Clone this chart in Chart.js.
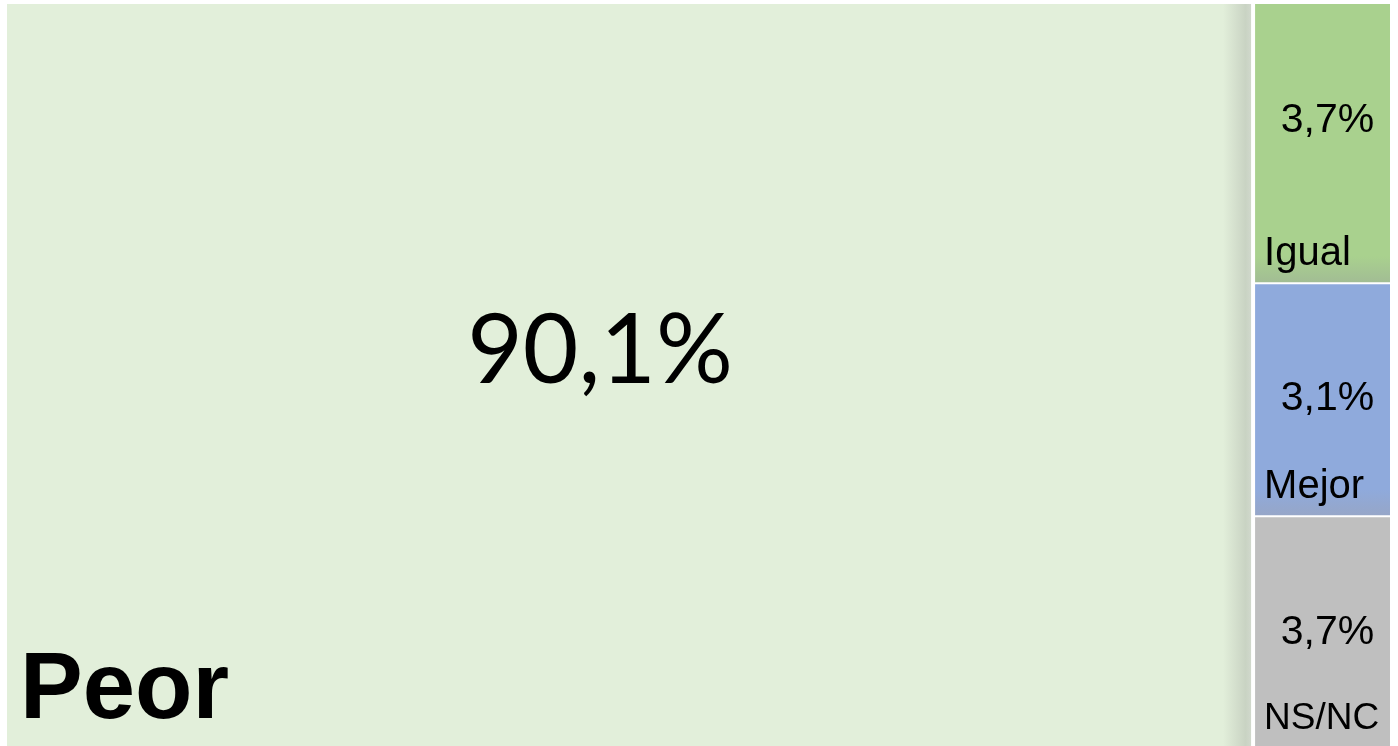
<!DOCTYPE html>
<html>
<head>
<meta charset="utf-8">
<script src="https://cdn.jsdelivr.net/npm/chart.js@4/dist/chart.umd.min.js"></script>
<style>
  html, body { margin: 0; padding: 0; background: #ffffff; }
  #wrap { width: 1398px; height: 746px; }
</style>
</head>
<body>
<div id="wrap"><canvas id="c" width="1398" height="746"></canvas></div>
<script>
// ---- data ----
const categories = ['Peor', 'Igual', 'Mejor', 'NS/NC'];
const values = [90.1, 3.7, 3.1, 3.7];
const valueLabels = ['90,1%', '3,7%', '3,1%', '3,7%'];
const colors = ['#E2EFDA', '#A9D18E', '#8FAADC', '#BFBFBF'];
const bandColors = ['#C9D3C3', '#A2BD94', '#96A6C8', '#BFBFBF'];

// ---- slice-and-dice treemap layout built from the values ----
const restSum = values.slice(1).reduce((a, b) => a + b, 0);
const cells = [];
cells.push({ x0: 0, x1: values[0], yTop: 100, yBot: 0 });
let stackTop = 100;
for (let i = 1; i < values.length; i++) {
  const h = values[i] / restSum * 100;
  cells.push({ x0: values[0], x1: 100, yTop: stackTop, yBot: stackTop - h });
  stackTop -= h;
}

function cellFill(i) {
  return function (ctx) {
    const chart = ctx.chart;
    const area = chart.chartArea;
    if (!area) return colors[i];
    const xs = chart.scales.x, ys = chart.scales.y;
    const c = cells[i];
    const g = chart.ctx;
    if (i === 0) {
      const xr = xs.getPixelForValue(c.x1);
      const grad = g.createLinearGradient(xr - 30, 0, xr, 0);
      grad.addColorStop(0, colors[0]);
      grad.addColorStop(0.75, bandColors[0]);
      grad.addColorStop(1, '#D3DACF');
      return grad;
    }
    if (i === 3) return colors[i];
    const yb = ys.getPixelForValue(c.yBot);
    const grad = g.createLinearGradient(0, yb - 26, 0, yb);
    grad.addColorStop(0, colors[i]);
    grad.addColorStop(1, bandColors[i]);
    return grad;
  };
}

const datasets = [];
// vertical white divider between Peor and the right column
datasets.push({
  label: 'divider',
  data: [{ x: values[0], y: 0 }, { x: values[0], y: 100 }],
  borderColor: '#ffffff', borderWidth: 4, pointRadius: 0, fill: false
});
cells.forEach((c, i) => {
  datasets.push({
    label: categories[i],
    data: [{ x: c.x0, y: c.yTop }, { x: c.x1, y: c.yTop }],
    backgroundColor: cellFill(i),
    borderColor: '#ffffff',
    borderWidth: c.yTop < 100 ? 4 : 0,
    pointRadius: 0,
    fill: { value: c.yBot }
  });
});

const labelPlugin = {
  id: 'cellLabels',
  afterDatasetsDraw(chart) {
    const g = chart.ctx;
    const xs = chart.scales.x, ys = chart.scales.y;
    const area = chart.chartArea;
    g.save();
    g.fillStyle = '#000000';
    cells.forEach((c, i) => {
      const x0 = xs.getPixelForValue(c.x0), x1 = xs.getPixelForValue(c.x1);
      const yt = Math.max(ys.getPixelForValue(c.yTop), area.top);
      const yb = Math.min(ys.getPixelForValue(c.yBot), area.bottom);
      const cx = (x0 + x1) / 2, cy = (yt + yb) / 2;
      if (i === 0) {
        g.font = '96px Lato';
        g.textAlign = 'center';
        g.textBaseline = 'alphabetic';
        g.fillText(valueLabels[i], cx - 30, cy + 8);
        g.font = 'bold 94px "Liberation Sans", Arial';
        g.textAlign = 'left';
        g.fillText(categories[i], x0 + 13, yb - 28);
      } else {
        g.font = '41px "Liberation Sans", Arial';
        g.textAlign = 'center';
        g.textBaseline = 'middle';
        g.fillText(valueLabels[i], cx + 6, yt + 117);
        g.textAlign = 'left';
        g.textBaseline = 'alphabetic';
        let size = 40;
        g.font = size + 'px "Liberation Sans", Arial';
        const maxW = (x1 - x0) - 20;
        const w = g.measureText(categories[i]).width;
        if (w > maxW) {
          size = Math.floor(size * maxW / w);
          g.font = size + 'px "Liberation Sans", Arial';
        }
        g.fillText(categories[i], x0 + 11, yb - 17);
      }
    });
    g.restore();
  }
};

new Chart(document.getElementById('c'), {
  type: 'scatter',
  data: { datasets },
  options: {
    responsive: false,
    animation: false,
    showLine: true,
    layout: { padding: { left: 7, right: 8, top: 4, bottom: 0 } },
    scales: {
      x: { type: 'linear', min: 0, max: 100, display: false },
      y: { type: 'linear', min: 6, max: 100, display: false }
    },
    plugins: {
      legend: { display: false },
      tooltip: { enabled: false }
    }
  },
  plugins: [labelPlugin]
});
</script>
</body>
</html>
